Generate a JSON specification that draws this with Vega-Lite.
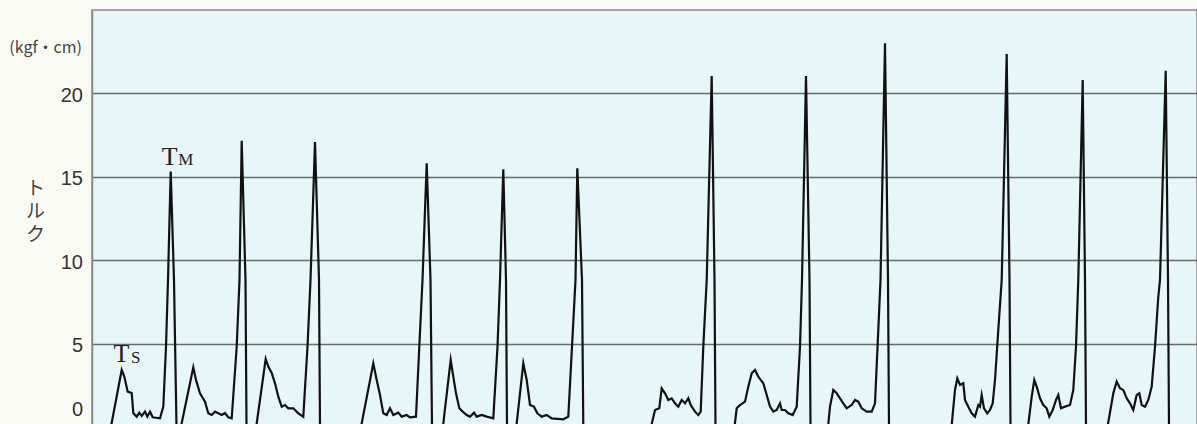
{
  "$schema": "https://vega.github.io/schema/vega-lite/v6.json",
  "autosize": "none",
  "padding": {"left": 92, "top": 10, "right": 0, "bottom": 0},
  "width": 1105,
  "height": 417,
  "background": "#fbfbf5",
  "title": {"text": "(kgf・cm)", "anchor": "start", "frame": "group", "align": "right", "baseline": "middle", "dx": -10, "dy": 54, "offset": 0, "fontSize": 16, "font": "Noto Sans CJK JP", "fontWeight": "normal", "color": "#444444"},
  "config": {
    "view": {"fill": "#e7f6f8", "stroke": "#8a8a8a", "strokeWidth": 1.5}
  },
  "datasets": {
    "torque": [
      {"t": 18.9, "v": 0}, {"t": 29.7, "v": 3.42}, {"t": 32.3, "v": 3.02}, {"t": 35.7, "v": 2.12}, {"t": 39.7, "v": 2.04}, {"t": 41.3, "v": 0.84}, {"t": 44.7, "v": 0.62}, {"t": 47.3, "v": 0.86}, {"t": 49.7, "v": 0.66}, {"t": 53, "v": 0.92}, {"t": 55.3, "v": 0.62}, {"t": 58, "v": 0.92}, {"t": 60.7, "v": 0.58}, {"t": 68, "v": 0.52}, {"t": 71.3, "v": 1.22}, {"t": 74, "v": 4.81}, {"t": 76, "v": 8.81}, {"t": 78.7, "v": 15.31}, {"t": 82, "v": 8.81}, {"t": 84.5, "v": 0},
      {"t": 88.9, "v": 0}, {"t": 101.3, "v": 3.58}, {"t": 104, "v": 2.82}, {"t": 108, "v": 2.02}, {"t": 113, "v": 1.52}, {"t": 116.3, "v": 0.82}, {"t": 119.7, "v": 0.72}, {"t": 123, "v": 0.92}, {"t": 126.3, "v": 0.82}, {"t": 129.7, "v": 0.72}, {"t": 133, "v": 0.84}, {"t": 136.3, "v": 0.58}, {"t": 139.7, "v": 0.52}, {"t": 144.7, "v": 4.81}, {"t": 147.5, "v": 8.81}, {"t": 149.7, "v": 17.16}, {"t": 153.5, "v": 8.81}, {"t": 154.5, "v": 0},
      {"t": 164.2, "v": 0}, {"t": 173.7, "v": 4.08}, {"t": 176.3, "v": 3.62}, {"t": 179.7, "v": 3.24}, {"t": 183, "v": 2.62}, {"t": 186.3, "v": 1.82}, {"t": 189.7, "v": 1.22}, {"t": 193, "v": 1.32}, {"t": 196.3, "v": 1.12}, {"t": 201.3, "v": 1.12}, {"t": 206.3, "v": 0.82}, {"t": 211.3, "v": 0.62}, {"t": 215.5, "v": 4.81}, {"t": 218.5, "v": 8.81}, {"t": 223, "v": 17.09}, {"t": 227, "v": 8.81}, {"t": 228, "v": 0},
      {"t": 269, "v": 0}, {"t": 281.3, "v": 3.82}, {"t": 284.7, "v": 2.82}, {"t": 288, "v": 1.92}, {"t": 291.3, "v": 0.82}, {"t": 294.7, "v": 0.72}, {"t": 298, "v": 1.12}, {"t": 301.3, "v": 0.72}, {"t": 306.3, "v": 0.86}, {"t": 309.7, "v": 0.62}, {"t": 314.7, "v": 0.72}, {"t": 318, "v": 0.58}, {"t": 324, "v": 0.62}, {"t": 327.3, "v": 4.81}, {"t": 330.5, "v": 8.81}, {"t": 334.7, "v": 15.81}, {"t": 338.5, "v": 8.81}, {"t": 340, "v": 0},
      {"t": 350.9, "v": 0}, {"t": 358.7, "v": 4.02}, {"t": 361.3, "v": 3.02}, {"t": 364, "v": 2.02}, {"t": 367.3, "v": 1.12}, {"t": 370.7, "v": 0.92}, {"t": 374.7, "v": 0.72}, {"t": 378, "v": 0.62}, {"t": 382, "v": 0.86}, {"t": 384.7, "v": 0.62}, {"t": 389.7, "v": 0.72}, {"t": 394.7, "v": 0.62}, {"t": 401.3, "v": 0.52}, {"t": 405.5, "v": 4.81}, {"t": 408, "v": 8.81}, {"t": 411.3, "v": 15.45}, {"t": 414, "v": 8.81}, {"t": 415, "v": 0},
      {"t": 424.3, "v": 0}, {"t": 431.3, "v": 3.82}, {"t": 434.7, "v": 2.82}, {"t": 438, "v": 1.32}, {"t": 442, "v": 1.22}, {"t": 445.3, "v": 0.82}, {"t": 449.7, "v": 0.62}, {"t": 454.7, "v": 0.72}, {"t": 459.7, "v": 0.52}, {"t": 471.3, "v": 0.46}, {"t": 476.3, "v": 0.62}, {"t": 480, "v": 4.81}, {"t": 483.5, "v": 8.81}, {"t": 485.3, "v": 15.51}, {"t": 490, "v": 8.81}, {"t": 491.3, "v": 0},
      {"t": 559, "v": 0}, {"t": 563, "v": 1.02}, {"t": 567.3, "v": 1.12}, {"t": 569.7, "v": 2.32}, {"t": 573, "v": 2.02}, {"t": 576.3, "v": 1.62}, {"t": 579.7, "v": 1.72}, {"t": 583, "v": 1.42}, {"t": 586.3, "v": 1.22}, {"t": 589.7, "v": 1.62}, {"t": 593, "v": 1.42}, {"t": 596.3, "v": 1.72}, {"t": 598.7, "v": 1.32}, {"t": 603, "v": 0.92}, {"t": 606.3, "v": 0.72}, {"t": 608.7, "v": 0.92}, {"t": 611.3, "v": 4.81}, {"t": 614.7, "v": 8.81}, {"t": 619.7, "v": 21.04}, {"t": 622.5, "v": 8.81}, {"t": 623.5, "v": 0},
      {"t": 642.5, "v": 0}, {"t": 644.7, "v": 1.12}, {"t": 648, "v": 1.32}, {"t": 653, "v": 1.52}, {"t": 656.3, "v": 2.42}, {"t": 659.7, "v": 3.22}, {"t": 663, "v": 3.42}, {"t": 666.3, "v": 3.02}, {"t": 668.7, "v": 2.82}, {"t": 671.3, "v": 2.62}, {"t": 674.7, "v": 1.92}, {"t": 678, "v": 1.22}, {"t": 681.3, "v": 0.92}, {"t": 684.7, "v": 1.02}, {"t": 688, "v": 1.42}, {"t": 689.7, "v": 1.02}, {"t": 693, "v": 1.02}, {"t": 696.3, "v": 0.82}, {"t": 700.7, "v": 0.72}, {"t": 704.7, "v": 1.22}, {"t": 708, "v": 4.81}, {"t": 710, "v": 8.81}, {"t": 714, "v": 21.04}, {"t": 717.5, "v": 8.81}, {"t": 718.5, "v": 0},
      {"t": 736, "v": 0}, {"t": 738, "v": 1.22}, {"t": 741.3, "v": 2.22}, {"t": 744.7, "v": 2.02}, {"t": 748, "v": 1.72}, {"t": 751.3, "v": 1.42}, {"t": 754.7, "v": 1.12}, {"t": 759.7, "v": 1.32}, {"t": 763, "v": 1.62}, {"t": 766.3, "v": 1.52}, {"t": 769.7, "v": 1.12}, {"t": 774.7, "v": 0.92}, {"t": 779.7, "v": 0.92}, {"t": 783, "v": 1.42}, {"t": 786.3, "v": 5.82}, {"t": 788.5, "v": 8.81}, {"t": 793, "v": 23.0}, {"t": 796, "v": 8.81}, {"t": 797, "v": 0},
      {"t": 859.5, "v": 0}, {"t": 863, "v": 2.22}, {"t": 865.3, "v": 2.92}, {"t": 868, "v": 2.52}, {"t": 871.3, "v": 2.62}, {"t": 873, "v": 1.62}, {"t": 876.3, "v": 1.22}, {"t": 879.7, "v": 0.82}, {"t": 883, "v": 0.62}, {"t": 886.3, "v": 1.32}, {"t": 888, "v": 1.22}, {"t": 889.7, "v": 1.92}, {"t": 892, "v": 1.12}, {"t": 895.3, "v": 0.82}, {"t": 898, "v": 1.02}, {"t": 900.7, "v": 1.42}, {"t": 903, "v": 2.82}, {"t": 906.3, "v": 5.82}, {"t": 909.7, "v": 8.81}, {"t": 914.7, "v": 22.36}, {"t": 917.5, "v": 8.81}, {"t": 918.5, "v": 0},
      {"t": 936, "v": 0}, {"t": 939.7, "v": 1.82}, {"t": 942.3, "v": 2.82}, {"t": 944.7, "v": 2.42}, {"t": 948, "v": 1.72}, {"t": 951.3, "v": 1.32}, {"t": 954.7, "v": 1.12}, {"t": 957.3, "v": 0.62}, {"t": 960.7, "v": 1.02}, {"t": 964, "v": 1.62}, {"t": 966.3, "v": 1.92}, {"t": 969, "v": 1.12}, {"t": 973, "v": 1.22}, {"t": 978, "v": 1.32}, {"t": 981.3, "v": 2.22}, {"t": 984, "v": 4.81}, {"t": 986.3, "v": 8.81}, {"t": 990.7, "v": 20.8}, {"t": 993, "v": 8.81}, {"t": 994, "v": 0},
      {"t": 1015.5, "v": 0}, {"t": 1021.3, "v": 2.02}, {"t": 1024.7, "v": 2.72}, {"t": 1028, "v": 2.32}, {"t": 1031.3, "v": 2.22}, {"t": 1034.7, "v": 1.72}, {"t": 1038, "v": 1.42}, {"t": 1041.3, "v": 1.02}, {"t": 1044.7, "v": 1.92}, {"t": 1047.3, "v": 2.02}, {"t": 1049.7, "v": 1.32}, {"t": 1053, "v": 1.22}, {"t": 1056.3, "v": 1.62}, {"t": 1059.7, "v": 2.42}, {"t": 1063, "v": 4.81}, {"t": 1066.3, "v": 7.81}, {"t": 1068, "v": 8.81}, {"t": 1073.7, "v": 21.36}, {"t": 1076, "v": 8.81}, {"t": 1077, "v": 0}
    ],
    "mainLabels": [
      {"t": 77.7, "v": 15.71, "text": "T"},
      {"t": 29.5, "v": 3.9, "text": "T"}
    ],
    "subLabels": [
      {"t": 86.3, "v": 15.71, "text": "M"},
      {"t": 39, "v": 3.84, "text": "S"}
    ]
  },
  "encoding": {
    "x": {"field": "t", "type": "quantitative", "scale": {"domain": [0, 1105], "nice": false, "zero": false}, "axis": null},
    "y": {
      "field": "v", "type": "quantitative",
      "scale": {"domain": [0, 25], "nice": false},
      "axis": {
        "values": [0, 5, 10, 15, 20],
        "grid": true, "gridColor": "#6a6a6a", "gridWidth": 1.3,
        "domain": true, "domainColor": "#8a8a8a", "domainWidth": 1.5,
        "ticks": false,
        "labelFont": "Liberation Sans", "labelFontSize": 20, "labelColor": "#333333",
        "labelPadding": 9.5, "labelBaseline": "middle",
        "labelOffset": {"condition": {"test": "datum.value === 0", "value": -18}, "value": 2},
        "title": ["ト", "ル", "ク"],
        "titleAngle": 0, "titleAlign": "center", "titleBaseline": "middle",
        "titleX": -57, "titleY": 178, "titleLineHeight": 23,
        "titleFont": "Noto Sans CJK JP", "titleFontSize": 19, "titleFontWeight": "normal", "titleColor": "#444444"
      }
    }
  },
  "layer": [
    {"data": {"name": "torque"}, "mark": {"type": "line", "color": "#111111", "strokeWidth": 2.2, "strokeJoin": "miter", "strokeMiterLimit": 20}},
    {"data": {"name": "mainLabels"}, "mark": {"type": "text", "font": "Liberation Serif", "fontSize": 26, "align": "center", "baseline": "alphabetic", "color": "#222222"}, "encoding": {"text": {"field": "text"}}},
    {"data": {"name": "subLabels"}, "mark": {"type": "text", "font": "Liberation Serif", "fontSize": 17, "align": "left", "baseline": "alphabetic", "color": "#222222"}, "encoding": {"text": {"field": "text"}}}
  ]
}
